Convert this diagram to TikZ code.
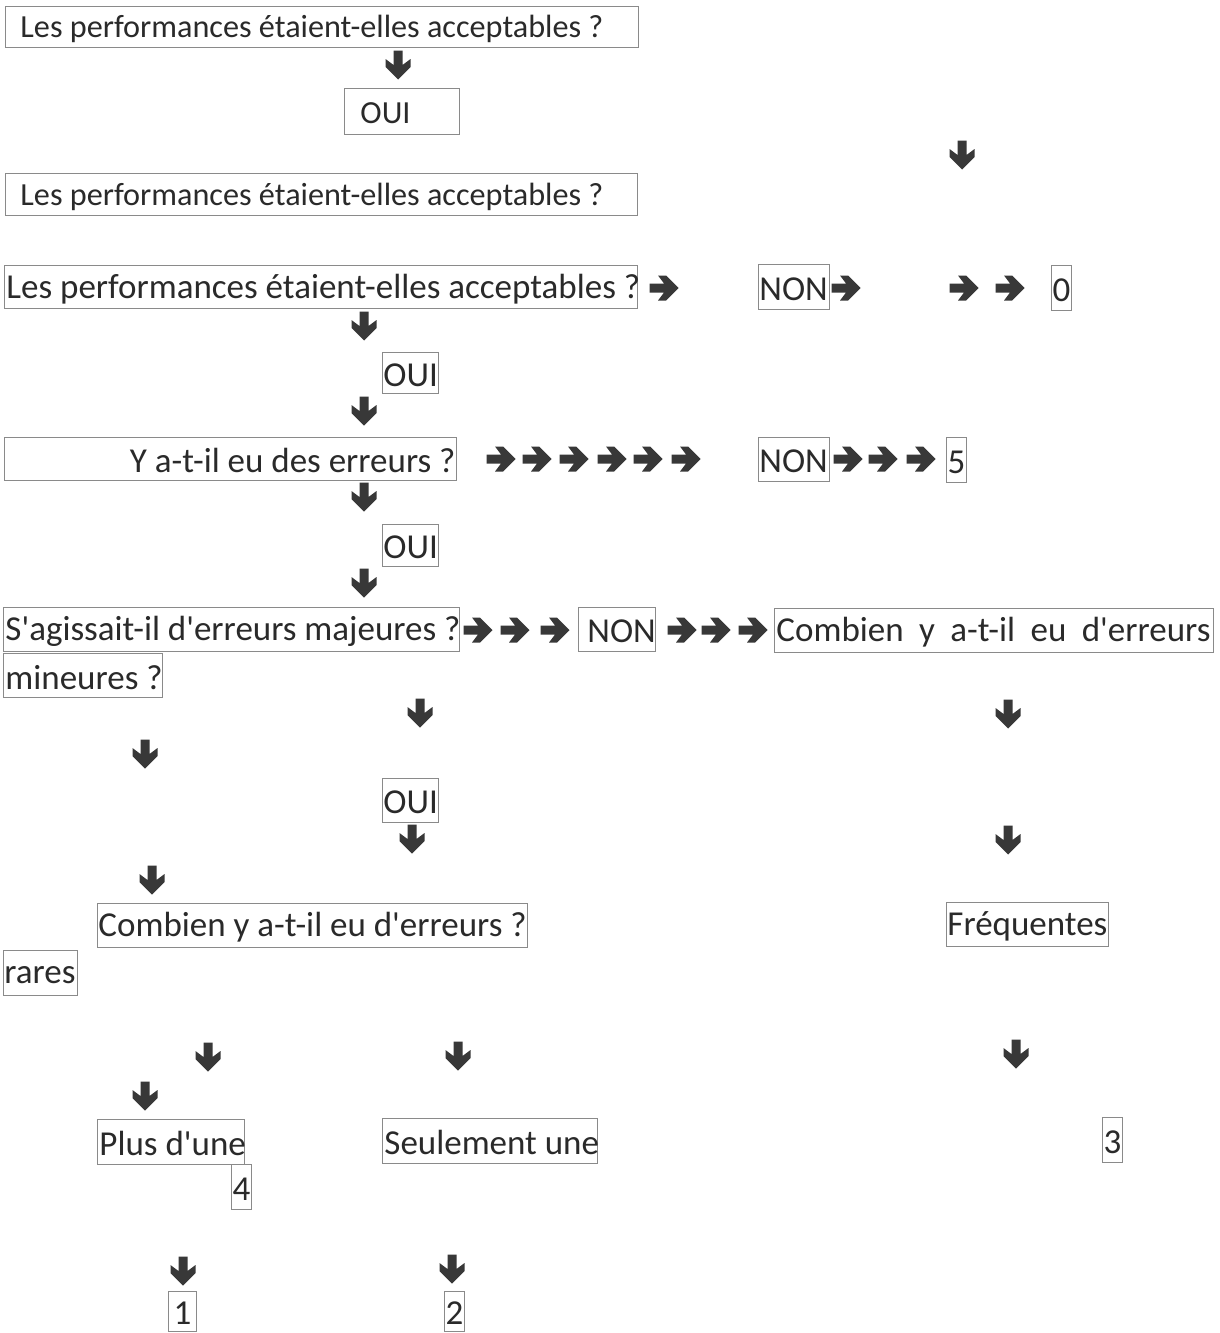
\documentclass[tikz,border=0pt]{standalone}
\usepackage{fontspec}
\setmainfont{Carlito}[Ligatures=TeXOff]
\definecolor{txtcol}{HTML}{2A2A2A}
\definecolor{boxcol}{HTML}{8A8A8A}
\definecolor{arrcol}{HTML}{383838}
\newcommand\dn[1]{\raisebox{-2pt}[\height][\depth]{#1}}
\newcommand\lbx[3]{\makebox[#1pt][l]{\hspace*{#2pt}\dn{#3}}}
\newcommand\rbx[3]{\makebox[#1pt][r]{\dn{#3}\hspace*{#2pt}}}
\newcommand\cbx[2]{\makebox[#1pt][c]{\dn{#2}}}
\begin{document}
\begin{tikzpicture}[x=1pt,y=-1pt,
  bx/.style={draw=boxcol, line width=0.9pt, inner sep=0pt, anchor=north west, text=txtcol,
    font=\fontsize{35}{40}\selectfont},
  sm/.style={font=\fontsize{32.2}{37}\selectfont},
  rarrow/.pic={\fill[arrcol] (-14.5,-4.5) -- (0,-4.5) -- (-6,-12.5) -- (2,-12.5) -- (14.5,0) -- (2,12.5) -- (-6,12.5) -- (0,4.5) -- (-14.5,4.5) -- cycle;},
  darrow/.pic={\fill[arrcol] (-4.5,-14.5) -- (-4.5,0) -- (-12.5,-6) -- (-12.5,2) -- (0,14.5) -- (12.5,2) -- (12.5,-6) -- (4.5,0) -- (4.5,-14.5) -- cycle;}
]
\fill[white] (0,0) rectangle (1220,1333);
\useasboundingbox (0,0) rectangle (1220,1333);

% boxes
\node[bx, sm, minimum height=41pt] (q1) at (5,6) {\lbx{633}{15}{Les performances étaient-elles acceptables ?}};
\node[bx, sm, minimum height=46pt] (o1) at (344,88) {\lbx{115}{16}{OUI}};
\node[bx, sm, minimum height=42pt] (q2) at (5,173) {\lbx{632}{15}{Les performances étaient-elles acceptables ?}};
\node[bx, minimum height=43pt] (q3) at (4,265) {\lbx{633}{2}{Les performances étaient-elles acceptables ?}};
\node[bx, minimum height=45pt] (n1) at (758,264) {\lbx{71}{1}{NON}};
\node[bx, minimum height=45pt] (z0) at (1051,265) {\cbx{20}{0}};
\node[bx, minimum height=41pt] (o2) at (382,352) {\lbx{56}{1}{OUI}};
\node[bx, minimum height=43pt] (q4) at (4,437) {\rbx{452}{1}{Y a-t-il eu des erreurs ?}};
\node[bx, minimum height=44pt] (n2) at (758,437) {\lbx{71}{1}{NON}};
\node[bx, minimum height=45pt] (z5) at (946,437) {\cbx{20}{5}};
\node[bx, minimum height=42pt] (o3) at (382,524) {\lbx{56}{1}{OUI}};
\node[bx, minimum height=44pt] (q5) at (3,607) {\lbx{456}{2}{S'agissait-il d'erreurs majeures ?}};
\node[bx, minimum height=44pt] (q5b) at (3,653) {\lbx{159}{2}{mineures ?}};
\node[bx, minimum height=44pt] (n3) at (578,607) {\lbx{77}{9}{NON}};
\node[bx, minimum height=44pt] (c1) at (774,608) {\hbox to 439pt{\hspace*{2pt}\dn{Combien}\hfil\dn{y}\hfil\dn{a-t-il}\hfil\dn{eu}\hfil\dn{d'erreurs}\hspace*{3pt}}};
\node[bx, minimum height=44pt] (o4) at (382,778) {\lbx{56}{1}{OUI}};
\node[bx, minimum height=44pt] (c2) at (97,903) {\lbx{430}{1}{Combien y a-t-il eu d'erreurs ?}};
\node[bx, minimum height=45pt] (rares) at (3,950) {\lbx{74}{1}{rares}};
\node[bx, minimum height=44pt] (freq) at (946,902) {\lbx{162}{1}{Fréquentes}};
\node[bx, minimum height=45pt] (plus) at (97,1119) {\lbx{147}{2}{Plus d'une}};
\node[bx, minimum height=45pt] (seul) at (382,1118) {\lbx{215}{2}{Seulement une}};
\node[bx, minimum height=45pt] (z4) at (231,1164) {\cbx{20}{4}};
\node[bx, minimum height=45pt] (z3) at (1102,1117) {\cbx{20}{3}};
\node[bx, minimum height=40pt] (z1) at (168,1291) {\cbx{28}{1}};
\node[bx, minimum height=40pt] (z2) at (444,1291) {\cbx{20}{2}};

% right arrows
\foreach \x in {664,846,964,1010} \pic at (\x,288) {rarrow};
\foreach \x in {501,537,574,612,648,686,848,883,921} \pic at (\x,459) {rarrow};
\foreach \x in {478,515,555,682,716,753} \pic at (\x,630) {rarrow};

% down arrows
\foreach \x/\y in {398/65, 962/155, 364/326, 364/411, 364/497, 364/583,
  420/713, 1008/714, 145/754, 412/839, 1008/840, 152/880,
  208/1057, 458/1056, 1016/1054, 145/1096, 183/1271, 452/1269}
  \pic at (\x,\y) {darrow};
\end{tikzpicture}
\end{document}
